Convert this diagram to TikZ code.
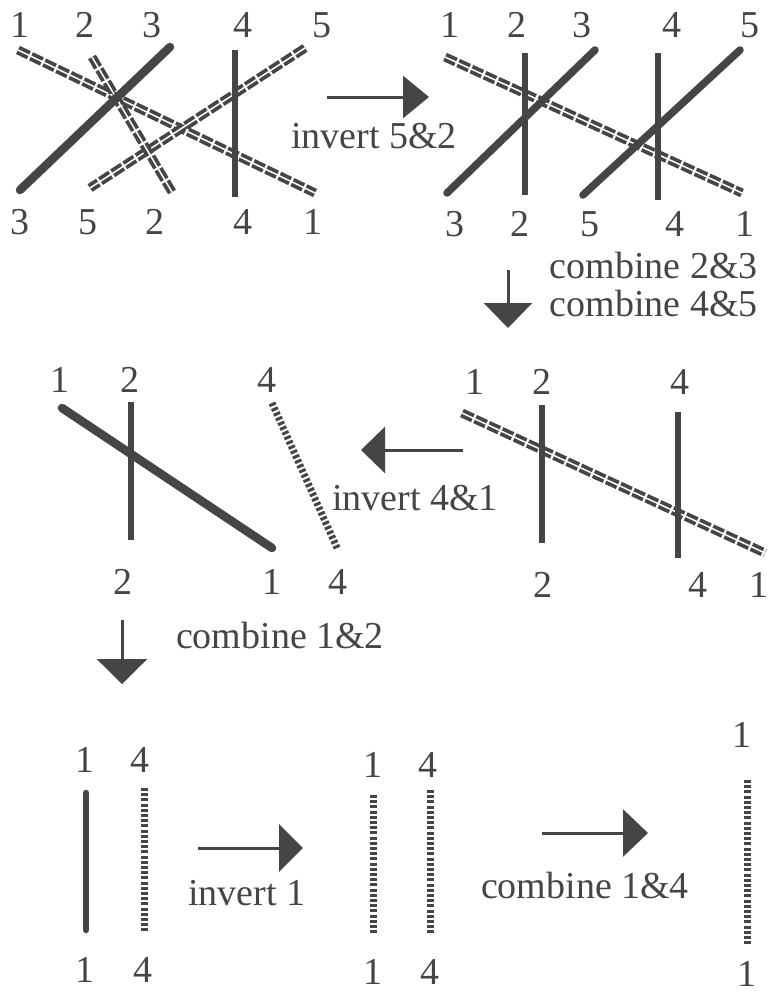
\documentclass[tikz,border=0pt]{standalone}
\usepackage{fontspec}
\setmainfont{Liberation Serif}
\usetikzlibrary{arrows.meta}
\definecolor{ink}{HTML}{454545}
\tikzset{
  lab/.style={text=ink, font=\fontsize{38}{41}\selectfont, inner sep=0pt},
  solidline/.style={draw=ink, line width=6.5, line cap=round},
  rope/.style={draw=ink, line width=9, dash pattern=on 12 off 2.5,
    postaction={draw=white, line width=1.5, solid}},
  ladder/.style={draw=ink, line width=7, dash pattern=on 3 off 2.2},
  arr/.style={draw=ink, line width=3, -{Triangle[length=25, width=44]}}
}
\begin{document}
\begin{tikzpicture}[x=1pt,y=-1pt]
\useasboundingbox (0,0) rectangle (768,994);
\fill[white] (0,0) rectangle (768,994);

% ---------- Panel 1 ----------
\node[lab] (p1t1) at (20,25) {1};
\node[lab] (p1t2) at (85,25) {2};
\node[lab] (p1t3) at (152,25) {3};
\node[lab] (p1t4) at (243,25) {4};
\node[lab] (p1t5) at (322,25) {5};
\node[lab] (p1b3) at (20,222) {3};
\node[lab] (p1b5) at (88,222) {5};
\node[lab] (p1b2) at (155,222) {2};
\node[lab] (p1b4) at (243,222) {4};
\node[lab] (p1b1) at (313,222) {1};
\coordinate (p1r1a) at (18,50);  \coordinate (p1r1b) at (315,193);
\coordinate (p1r5a) at (305,48); \coordinate (p1r5b) at (90,188);
\coordinate (p1r2a) at (92,57);  \coordinate (p1r2b) at (172,192);
\coordinate (p1s3a) at (20,190); \coordinate (p1s3b) at (170,47);
\coordinate (p1s4a) at (235,50); \coordinate (p1s4b) at (235,197);
\draw[rope] (p1r1a) -- (p1r1b);
\draw[rope] (p1r5a) -- (p1r5b);
\draw[rope] (p1r2a) -- (p1r2b);
\draw[solidline, line width=8.5] (p1s3a) -- (p1s3b);
\draw[solidline, line cap=butt] (p1s4a) -- (p1s4b);

% arrow 1
\coordinate (a1s) at (327,97); \coordinate (a1e) at (429,97);
\draw[arr, -{Triangle[length=26, width=42]}] (a1s) -- (a1e);
\node[lab] (t1) at (374,136) {invert 5\&2};

% ---------- Panel 2 ----------
\node[lab] (p2t1) at (450,25) {1};
\node[lab] (p2t2) at (517,25) {2};
\node[lab] (p2t3) at (582,25) {3};
\node[lab] (p2t4) at (672,25) {4};
\node[lab] (p2t5) at (750,25) {5};
\node[lab] (p2b3) at (455,224) {3};
\node[lab] (p2b2) at (520,224) {2};
\node[lab] (p2b5) at (590,224) {5};
\node[lab] (p2b4) at (675,224) {4};
\node[lab] (p2b1) at (745,224) {1};
\coordinate (p2r1a) at (445,57); \coordinate (p2r1b) at (742,193);
\coordinate (p2s2a) at (525,53); \coordinate (p2s2b) at (525,195);
\coordinate (p2s3a) at (595,50); \coordinate (p2s3b) at (447,193);
\coordinate (p2s4a) at (658,53); \coordinate (p2s4b) at (658,200);
\coordinate (p2s5a) at (740,50); \coordinate (p2s5b) at (583,195);
\draw[rope] (p2r1a) -- (p2r1b);
\draw[solidline, line cap=butt] (p2s2a) -- (p2s2b);
\draw[solidline, line cap=butt] (p2s4a) -- (p2s4b);
\draw[solidline, line width=7.5] (p2s3a) -- (p2s3b);
\draw[solidline, line width=7.5] (p2s5a) -- (p2s5b);

% arrow 2 (down)
\node[lab, anchor=east] (t2a) at (758,265) {combine 2\&3};
\node[lab, anchor=east] (t2b) at (758,303) {combine 4\&5};
\coordinate (a2s) at (508,270); \coordinate (a2e) at (508,328);
\draw[arr, -{Triangle[length=25, width=48]}] (a2s) -- (a2e);

% ---------- Panel 3 right ----------
\node[lab] (p3t1) at (475,382) {1};
\node[lab] (p3t2) at (542,382) {2};
\node[lab] (p3t4) at (680,382) {4};
\node[lab] (p3b2) at (543,585) {2};
\node[lab] (p3b4) at (698,585) {4};
\node[lab] (p3b1) at (759,585) {1};
\coordinate (p3r1a) at (462,413); \coordinate (p3r1b) at (765,553);
\coordinate (p3s2a) at (542,405); \coordinate (p3s2b) at (542,543);
\coordinate (p3s4a) at (678,412); \coordinate (p3s4b) at (678,558);
\draw[rope] (p3r1a) -- (p3r1b);
\draw[solidline, line cap=butt] (p3s2a) -- (p3s2b);
\draw[solidline, line cap=butt] (p3s4a) -- (p3s4b);

% arrow 3 (left)
\coordinate (a3s) at (463,450); \coordinate (a3e) at (361,450);
\draw[arr, -{Triangle[length=24, width=46]}] (a3s) -- (a3e);
\node[lab] (t3) at (415,498) {invert 4\&1};

% ---------- Panel 3 left ----------
\node[lab] (p4t1) at (60,380) {1};
\node[lab] (p4t2) at (130,380) {2};
\node[lab] (p4t4) at (267,380) {4};
\node[lab] (p4b2) at (123,582) {2};
\node[lab] (p4b1) at (272,582) {1};
\node[lab] (p4b4) at (338,582) {4};
\coordinate (p4s1a) at (62,408);  \coordinate (p4s1b) at (272,548);
\coordinate (p4s2a) at (131,402); \coordinate (p4s2b) at (131,540);
\coordinate (p4l4a) at (272,403); \coordinate (p4l4b) at (338,550);
\draw[solidline, line cap=butt] (p4s2a) -- (p4s2b);
\draw[solidline, line width=8.5] (p4s1a) -- (p4s1b);
\draw[ladder] (p4l4a) -- (p4l4b);

% arrow 4 (down)
\node[lab] (t4) at (280,635) {combine 1\&2};
\coordinate (a4s) at (122,620); \coordinate (a4e) at (122,684);
\draw[arr, -{Triangle[length=25, width=50]}] (a4s) -- (a4e);

% ---------- Panel 4 ----------
\node[lab] (p5t1) at (85,760) {1};
\node[lab] (p5t4) at (140,760) {4};
\node[lab] (p5b1) at (85,970) {1};
\node[lab] (p5b4) at (143,970) {4};
\coordinate (p5s1a) at (86,793);  \coordinate (p5s1b) at (86,930);
\coordinate (p5l4a) at (144,788); \coordinate (p5l4b) at (144,932);
\draw[solidline] (p5s1a) -- (p5s1b);
\draw[ladder] (p5l4a) -- (p5l4b);

% arrow 5
\coordinate (a5s) at (198,848); \coordinate (a5e) at (303,848);
\draw[arr, -{Triangle[length=24, width=47]}] (a5s) -- (a5e);
\node[lab] (t5) at (247,893) {invert 1};

% ---------- Panel 5 ----------
\node[lab] (p6t1) at (373,765) {1};
\node[lab] (p6t4) at (428,765) {4};
\node[lab] (p6b1) at (373,972) {1};
\node[lab] (p6b4) at (430,972) {4};
\coordinate (p6l1a) at (373,795); \coordinate (p6l1b) at (373,933);
\coordinate (p6l4a) at (430,790); \coordinate (p6l4b) at (430,933);
\draw[ladder] (p6l1a) -- (p6l1b);
\draw[ladder] (p6l4a) -- (p6l4b);

% arrow 6
\coordinate (a6s) at (542,833); \coordinate (a6e) at (648,833);
\draw[arr, -{Triangle[length=25, width=47]}] (a6s) -- (a6e);
\node[lab] (t6) at (585,885) {combine 1\&4};

% ---------- Panel 6 ----------
\node[lab] (p7t1) at (742,735) {1};
\node[lab] (p7b1) at (747,974) {1};
\coordinate (p7l1a) at (747,780); \coordinate (p7l1b) at (747,945);
\draw[ladder] (p7l1a) -- (p7l1b);
\end{tikzpicture}
\end{document}
